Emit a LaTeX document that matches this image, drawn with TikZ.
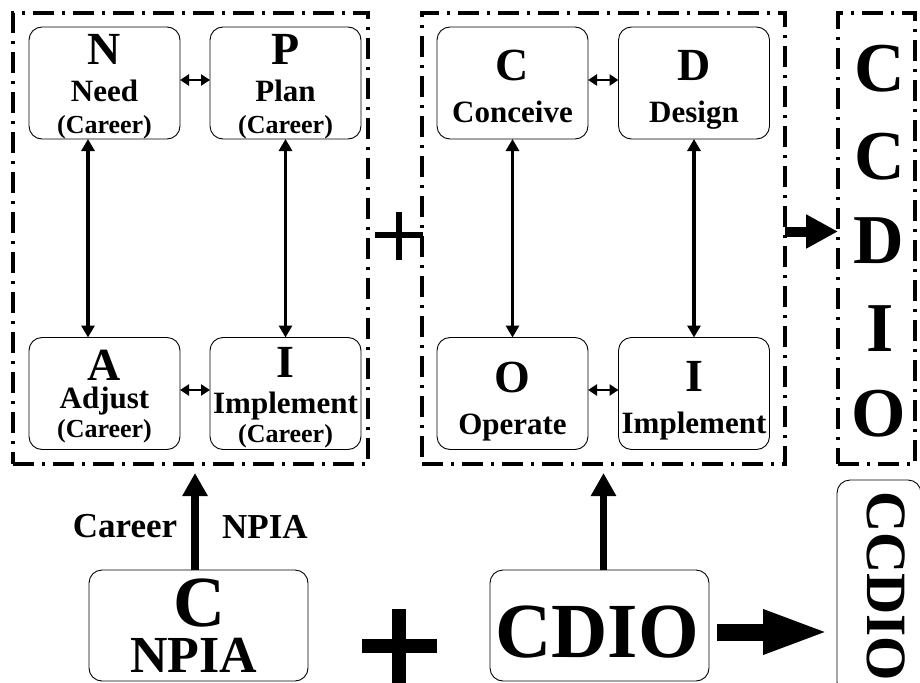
\documentclass[tikz,border=0pt]{standalone}
\usepackage{fontspec}
\setmainfont{Liberation Serif}
\usetikzlibrary{arrows.meta,calc}

\begin{document}
\begin{tikzpicture}[x=1pt,y=-1pt,
  box/.style={draw, line width=0.9pt, rounded corners=13pt, inner sep=0pt, outer sep=0pt,
              minimum width=151pt, minimum height=112pt},
  group/.style={draw, line width=3.6pt, dash pattern=on 21pt off 8pt on 3pt off 8pt,
                inner sep=0pt, outer sep=0pt, minimum height=451pt},
  letter/.style={anchor=base, inner sep=0pt, font=\bfseries\fontsize{46}{46}\selectfont},
  word/.style={anchor=base, inner sep=0pt, font=\bfseries\fontsize{31}{31}\selectfont},
  note/.style={anchor=base, inner sep=0pt, font=\bfseries\fontsize{26}{26}\selectfont},
  tall/.style={anchor=base, inner sep=0pt, font=\bfseries\fontsize{70}{70}\selectfont},
  label/.style={anchor=base, inner sep=0pt, font=\bfseries\fontsize{35}{35}\selectfont},
  link/.style={line width=2.6pt, arrows={Triangle[length=9pt,width=11pt]-Triangle[length=9pt,width=11pt]}},
  vlink/.style={line width=3.4pt, arrows={Triangle[length=12pt,width=13pt]-Triangle[length=12pt,width=13pt]}},
  feed/.style={line width=7.5pt, arrows={-Triangle[length=23pt,width=24pt]}},
  push/.style={line width=10pt, arrows={-Triangle[length=32pt,width=32pt]}},
  bigpush/.style={line width=17pt, arrows={-Triangle[length=67pt,width=40pt]}},
]
\fill[white] (0,0) rectangle (920,682);
\useasboundingbox (0,0) rectangle (920,682);

% ---- NPIA cycle ----
\node[group, minimum width=355pt] (G1) at (190.5,238.5) {};
\node[box] (N) at (104.5,83) {};
\node[box] (P) at (285.5,83) {};
\node[box] (A) at (104.5,393.5) {};
\node[box] (I) at (285.5,393.5) {};

\node[letter] (Nl) at (104.5,65) {N};
\node[word]   (Nw) at (104.5,102) {Need};
\node[note]   (Nc) at (104.5,133) {(Career)};
\node[letter] (Pl) at (285.5,65) {P};
\node[word]   (Pw) at (285.5,102) {Plan};
\node[note]   (Pc) at (285.5,133) {(Career)};
\node[letter] (Al) at (104.5,380) {A};
\node[word]   (Aw) at (104.5,408) {Adjust};
\node[note]   (Ac) at (104.5,437) {(Career)};
\node[letter] (Il) at (285.5,377) {I};
\node[word]   (Iw) at (285.5,413) {Implement};
\node[note]   (Ic) at (285.5,442) {(Career)};

\draw[link] ([yshift=3pt]N.east) -- ([yshift=3pt]P.west);
\draw[link] ([yshift=3.5pt]A.east) -- ([yshift=3.5pt]I.west);
\draw[vlink] ([xshift=-16.5pt]N.south) -- ([xshift=-16.5pt]A.north);
\draw[vlink] (P.south) -- (I.north);

% ---- CDIO cycle ----
\node[group, minimum width=363pt] (G2) at (603.5,238.5) {};
\node[box] (C) at (512.5,83) {};
\node[box] (D) at (694,83) {};
\node[box] (O) at (512.5,393.5) {};
\node[box] (I2) at (694,393.5) {};

\node[letter] (Cl) at (512.5,81) {C};
\node[word]   (Cw) at (512.5,123) {Conceive};
\node[letter] (Dl) at (694,81) {D};
\node[word]   (Dw) at (694,123) {Design};
\node[letter] (Ol) at (512.5,392) {O};
\node[word]   (Ow) at (512.5,434) {Operate};
\node[letter] (I2l) at (694,391) {I};
\node[word]   (I2w) at (694,433) {Implement};

\draw[link] ([yshift=3pt]C.east) -- ([yshift=3pt]D.west);
\draw[link] ([yshift=3.5pt]O.east) -- ([yshift=3.5pt]I2.west);
\draw[vlink] (C.south) -- (O.north);
\draw[vlink] (D.south) -- (I2.north);

% plus sign between the two cycles
\fill (375,232) rectangle (423,238);
\fill (396,212) rectangle (402,260);

% ---- combined CCDIO column ----
\node[group, minimum width=77pt] (G3) at (876.5,238.5) {};
\node[tall] (R1) at (880,92) {C};
\node[tall] (R2) at (880,179) {C};
\node[tall] (R3) at (879,263) {D};
\node[tall] (R4) at (880,351) {I};
\node[tall] (R5) at (879,436) {O};
\draw[push] ([yshift=7pt]G2.east) -- ([yshift=7pt]G3.west);

% ---- bottom row ----
\node[box, minimum width=219pt, minimum height=111pt] (NB) at (198.5,625.5) {};
\node[anchor=base, inner sep=0pt, font=\bfseries\fontsize{72}{72}\selectfont] (NBc) at (199,626) {C};
\node[anchor=base, inner sep=0pt, font=\bfseries\fontsize{52}{52}\selectfont] (NBt) at (194,672) {NPIA};

\node[box, minimum width=219pt, minimum height=111pt] (CD) at (599.5,625.5) {};
\node[anchor=base, inner sep=0pt, font=\bfseries\fontsize{78}{78}\selectfont] (CDt) at (597,657) {CDIO};

\node[box, minimum width=84pt, minimum height=215pt] (CB) at (879,587.5) {};
\node[inner sep=0pt, rotate=-90, font=\bfseries\fontsize{57}{57}\selectfont] (CBt) at (886,586) {CCDIO};

\draw[feed] ([xshift=-3.5pt]NB.north) -- ([xshift=4.5pt,yshift=-9pt]G1.south);
\node[label] (Lcar) at (125,537) {Career};
\node[label] (Lnp) at (265,538) {NPIA};
\draw[feed] ([xshift=4pt]CD.north) -- ([yshift=-9pt]G2.south);

\draw[bigpush] ($(CD.east)+(8,6.5)$) -- ($(CB.west |- CD.east)+(-7,6.5)$);

% plus sign between the bottom boxes
\fill (362,639) rectangle (437,653);
\fill (392,609) rectangle (406,690);
\end{tikzpicture}
\end{document}
